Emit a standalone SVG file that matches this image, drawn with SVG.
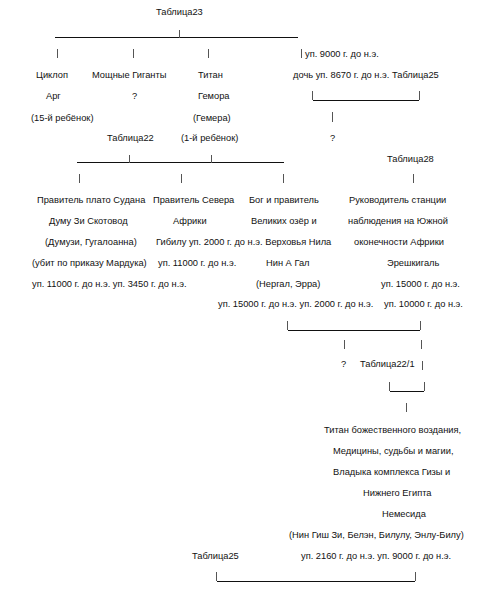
<svg xmlns="http://www.w3.org/2000/svg" width="489" height="596" viewBox="0 0 489 596">
<style>
text{font-family:"Liberation Sans",Arial,sans-serif;font-size:9.3px;fill:#111}
.c line{stroke:#111;stroke-width:1}
.c line.p{stroke:#555}
</style>
<rect width="489" height="596" fill="#fff"/>
<g class="c" id="connectors">
<line x1="55" y1="37.5" x2="298" y2="37.5"/><line class="p" x1="179.5" y1="30" x2="179.5" y2="38"/>
<line class="p" x1="57.5" y1="49" x2="57.5" y2="58"/><line class="p" x1="133.5" y1="49" x2="133.5" y2="58"/><line class="p" x1="208.5" y1="49" x2="208.5" y2="58"/><line class="p" x1="301.5" y1="49" x2="301.5" y2="58"/>
<line class="p" x1="312.5" y1="91" x2="312.5" y2="100"/><line x1="313" y1="100.5" x2="419" y2="100.5"/><line class="p" x1="419.5" y1="91" x2="419.5" y2="100"/>
<line class="p" x1="332.5" y1="112" x2="332.5" y2="122"/>
<line x1="77" y1="162.5" x2="284" y2="162.5"/><line class="p" x1="129.5" y1="155" x2="129.5" y2="163"/><line class="p" x1="211.5" y1="155" x2="211.5" y2="163"/>
<line class="p" x1="79.5" y1="174" x2="79.5" y2="183"/><line class="p" x1="181.5" y1="174" x2="181.5" y2="183"/><line class="p" x1="283.5" y1="174" x2="283.5" y2="183"/><line class="p" x1="413.5" y1="174" x2="413.5" y2="183"/>
<line class="p" x1="287.5" y1="321" x2="287.5" y2="330"/><line x1="288" y1="330.5" x2="420" y2="330.5"/><line class="p" x1="420.5" y1="321" x2="420.5" y2="330"/>
<line class="p" x1="344.5" y1="340" x2="344.5" y2="349"/><line class="p" x1="421.5" y1="340" x2="421.5" y2="349"/>
<line class="p" x1="422.5" y1="361" x2="422.5" y2="370"/>
<line class="p" x1="389.5" y1="382" x2="389.5" y2="391"/><line x1="390" y1="391.5" x2="424" y2="391.5"/><line class="p" x1="424.5" y1="382" x2="424.5" y2="391"/>
<line class="p" x1="406.5" y1="403" x2="406.5" y2="412"/>
<line class="p" x1="216.5" y1="572" x2="216.5" y2="581"/><line x1="217" y1="581.5" x2="415" y2="581.5"/><line class="p" x1="415.5" y1="572" x2="415.5" y2="581"/>
</g>
<g id="t23"><text x="156" y="14.5">Таблица23</text></g>
<g id="d9000"><text x="305" y="57">уп. 9000 г. до н.э.</text></g>
<g id="cyclop"><text x="36" y="78">Циклоп</text><text x="46" y="99">Арг</text><text x="31" y="120.5">(15-й ребёнок)</text></g>
<g id="giants"><text x="92" y="78">Мощные Гиганты</text><text x="132" y="99">?</text></g>
<g id="titan"><text x="198" y="78">Титан</text><text x="198" y="99">Гемора</text><text x="193" y="120.5">(Гемера)</text><text x="181" y="140.5">(1-й ребёнок)</text></g>
<g id="daughter"><text x="293" y="78">дочь уп. 8670 г. до н.э. Таблица25</text><text x="330" y="140.5">?</text></g>
<g id="t22"><text x="107" y="140.5">Таблица22</text></g>
<g id="t28"><text x="387" y="161.5">Таблица28</text></g>
<g id="dumuzi"><text x="37" y="203">Правитель плато Судана</text><text x="49" y="224">Думу Зи Скотовод</text><text x="45" y="245">(Думузи, Гугалоанна)</text><text x="32" y="266">(убит по приказу Мардука)</text><text x="32" y="287">уп. 11000 г. до н.э. уп. 3450 г. до н.э.</text></g>
<g id="gibil"><text x="153" y="203">Правитель Севера</text><text x="173" y="224">Африки</text><text x="156" y="245">Гибилу уп. 2000 г. до н.э. Верховья Нила</text><text x="158" y="266">уп. 11000 г. до н.э.</text></g>
<g id="nergal"><text x="249" y="203">Бог и правитель</text><text x="251" y="224">Великих озёр и</text><text x="266" y="266">Нин А Гал</text><text x="256" y="287">(Нергал, Эрра)</text><text x="218" y="307">уп. 15000 г. до н.э. уп. 2000 г. до н.э.</text></g>
<g id="ereshkigal"><text x="349" y="203">Руководитель станции</text><text x="348" y="224">наблюдения на Южной</text><text x="354" y="245">оконечности Африки</text><text x="387" y="266">Эрешкигаль</text><text x="381" y="287">уп. 15000 г. до н.э.</text><text x="384" y="307">уп. 10000 г. до н.э.</text></g>
<g id="q2"><text x="341" y="367">?</text></g>
<g id="t221"><text x="360" y="367">Таблица22/1</text></g>
<g id="ningishzida"><text x="324" y="433">Титан божественного воздания,</text><text x="333" y="454">Медицины, судьбы и магии,</text><text x="333" y="475">Владыка комплекса Гизы и</text><text x="363" y="496">Нижнего Египта</text><text x="382" y="517">Немесида</text><text x="289" y="538">(Нин Гиш Зи, Белэн, Билулу, Энлу-Билу)</text><text x="301" y="559">уп. 2160 г. до н.э. уп. 9000 г. до н.э.</text></g>
<g id="t25"><text x="192" y="559">Таблица25</text></g>
</svg>
